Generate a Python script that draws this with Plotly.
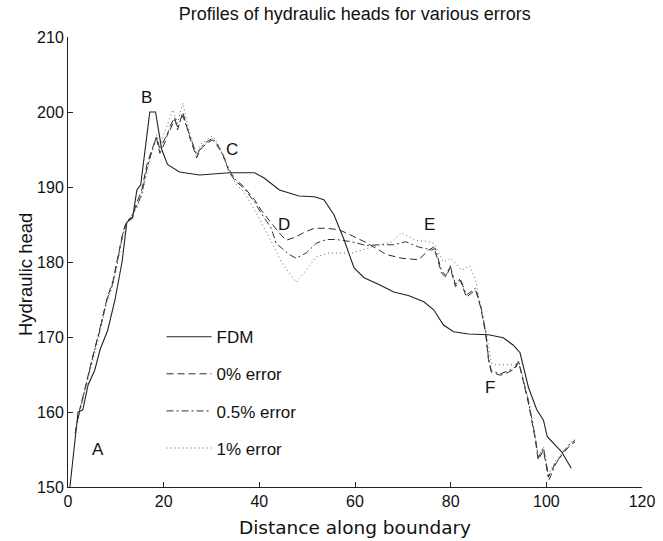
import plotly.graph_objects as go

# ---- data ----
fdm_x = [0.4, 2.1, 3.1, 4.2, 5.6, 6.7, 8.3, 9.8, 11.3, 12.3, 13.5, 14.4, 15.2, 17.1, 18.3,
         19.6, 20.8, 23.3, 27.5, 33.75, 39, 41, 44.2, 48.3, 51.5, 53.5, 55.6, 57.7, 59.8,
         61.9, 65, 68.1, 71.3, 74.4, 76.5, 78.5, 80.6, 83.75, 87.9, 91, 93.1, 94.5, 96.25,
         98, 99.4, 100.2, 103.2, 105.2]
fdm_y = [150, 160, 160.3, 163.6, 165.6, 168.3, 170.9, 174.9, 180, 185.3, 185.9, 189.6, 190.3,
         200, 200, 195, 193, 192, 191.6, 191.9, 191.9, 191.2, 189.6, 188.8, 188.7, 188.3, 186.3,
         183, 179.2, 177.9, 177, 176, 175.5, 174.7, 173.6, 171.6, 170.7, 170.4, 170.3, 169.9,
         168.9, 167.9, 163.3, 160.3, 158.9, 156.7, 154.7, 152.5]

e0_x = [1.5, 2.5, 3.5, 5.2, 6.7, 8.1, 9.4, 10.4, 11.5, 12.3, 13.5, 14.4, 15.4, 16.5, 17.7,
        18.5, 19.2, 20.3, 21.25, 22.3, 22.9, 24, 25.5, 26.9, 27.9, 29, 30.2, 31.2, 32.3, 33.75,
        35, 36.5, 37.3, 39, 40.4, 42.5, 44, 45.6, 47.5, 49.5, 51.5, 53.9, 56.7, 59.4, 62.3,
        64.5, 66.5, 69.8, 73.3, 75.4, 76.5, 78.1, 79, 79.9, 81, 82, 83.3, 85.2, 86.25, 87.3,
        87.9, 88.5, 90.4, 92.1, 93.5, 94.2, 96.25, 97.7, 98.3, 99.4, 100.4, 101.9, 103.5,
        105, 106]
e0_y = [157.2, 160.5, 163, 167.5, 171, 175, 177.5, 180.5, 184, 185.5, 186, 188, 189.5, 193,
        195.3, 196.5, 194.5, 196, 198, 199.3, 197.6, 200, 196.5, 193.9, 195.2, 195.8, 196.3,
        195.5, 194.5, 191.9, 190.8, 190, 189.6, 188.3, 186.9, 185.2, 184, 182.9, 183.3, 184,
        184.5, 184.5, 184.3, 183.5, 182.6, 181.8, 181, 180.5, 180.3, 181.6, 182, 178.5, 178,
        179.3, 176.7, 177.6, 175.3, 176.3, 174, 170.5, 167, 165.3, 164.9, 165.3, 165.8, 166.7,
        161.2, 156.3, 153.6, 154.9, 151.3, 153.2, 154.5, 155.6, 156]

e05_x = [1.5, 2.5, 3.5, 5.2, 6.7, 8.1, 9.4, 10.4, 11.5, 12.3, 13.5, 14.4, 15.4, 16.5, 17.7,
         18.5, 19.2, 20.3, 21.25, 22.3, 22.9, 24, 25.5, 26.9, 27.9, 29, 30.2, 31.2, 32.3, 33.75,
         35, 36.5, 37.3, 39, 40.4, 42.5, 43.5, 46.25, 47.7, 49.8, 51.9, 54, 56, 59.4, 62.3,
         65, 68.1, 70.6, 73.3, 76, 76.8, 78.1, 79, 79.9, 81, 82, 83.3, 85.2, 86.25, 87.3,
         87.9, 88.5, 90.4, 92.1, 93.5, 94.2, 96.25, 97.7, 98.3, 99.4, 100.6, 101.9, 103.5,
         105, 106]
e05_y = [157.2, 160.3, 162.9, 167.3, 170.9, 174.9, 177.2, 180.3, 183.8, 185.3, 186.3, 187.5,
         189, 192.5, 195, 196.8, 195, 196.5, 197.5, 199, 198, 199.5, 196.8, 194.2, 195.4, 196,
         196.5, 195.7, 194.3, 192.2, 191, 190.2, 189.4, 188, 186.5, 184.5, 182.5, 181, 180.5,
         181.2, 182.5, 183, 183, 182.7, 182.2, 182.3, 182.3, 182.7, 182, 181.6, 181.8, 178.8,
         178.2, 179.5, 177, 177.8, 175.6, 176.5, 174.3, 170.8, 167.2, 165.5, 165.1, 165.5,
         166, 166.8, 161.5, 156.6, 153.9, 155.2, 151, 153, 154.7, 155.8, 156.2]

e1_x = [1.5, 2.5, 3.5, 5.2, 6.7, 8.1, 9.4, 10.4, 11.5, 12.3, 13.5, 14.4, 15.4, 16.5, 17.7,
        18.5, 19.2, 20.3, 21.9, 22.9, 24, 25.5, 26.9, 27.9, 29, 30.2, 31.2, 32.3, 33.75, 35,
        36.5, 37.3, 39.4, 41, 42.7, 44.8, 47.7, 49.8, 51.9, 54.6, 59.4, 63.5, 67.7, 69.6, 72.7,
        75.4, 76.5, 78.5, 80, 82.3, 84, 85.4, 85.8, 87.5, 88.5, 89.4, 93.5, 94.2, 96.25, 97.7,
        98.3, 99.4, 100.4, 101.9, 103.5, 105, 106]
e1_y = [157, 160.2, 162.7, 167, 170.6, 174.6, 177, 180, 183.5, 185.2, 186.5, 187.2, 188.8, 192,
        195, 197, 195.5, 197.5, 200.3, 198.5, 201.2, 197, 194.5, 195.8, 196.3, 196.8, 196,
        194.3, 192.3, 190.5, 189.5, 188.8, 186.5, 184.5, 182.5, 179.8, 177.3, 178.9, 180.7,
        181.2, 181.2, 182, 182.7, 183.9, 182.9, 182.7, 182.5, 180, 180.5, 178.9, 179.5, 177.2,
        175.3, 170.5, 166.5, 166.3, 166.3, 166.8, 161.8, 156.8, 154, 155.4, 151.6, 153.5,
        154.8, 155.9, 156.3]

series_names = ["FDM", "0% error", "0.5% error", "1% error"]
label_text = ["A", "B", "C", "D", "E", "F"]
label_x = [6.25, 16.5, 34.2, 45.2, 75.6, 88.3]
label_y = [155, 202, 195, 185, 185, 163.3]

FONT = "Liberation Sans, Arial, Helvetica, sans-serif"
FONT2 = "DejaVu Sans, Liberation Sans, sans-serif"
INK = "#222222"
TXT = "#111111"

fig = go.Figure()
styles = [("solid", 1.1), ("7px,4px", 1.0), ("7px,3px,2px,3px", 1.0), ("1px,3px", 1.0)]
colors = ["#222222", "#2a2a2a", "#333333", "#666666"]
data = [(fdm_x, fdm_y), (e0_x, e0_y), (e05_x, e05_y), (e1_x, e1_y)]
for i, ((xs, ys), name) in enumerate(zip(data, series_names)):
    fig.add_trace(go.Scatter(
        x=xs, y=ys, mode="lines", name=name, legendgroup=name,
        line=dict(color=colors[i], width=styles[i][1], dash=styles[i][0]),
    ))

for t, x, y in zip(label_text, label_x, label_y):
    fig.add_annotation(x=x, y=y, text=t, showarrow=False,
                       font=dict(family=FONT, size=17, color=TXT))

# y-axis title as a rotated annotation (reference places it slightly below centre)
fig.add_annotation(x=0, y=0.471, xref="paper", yref="paper", xanchor="center", yanchor="middle",
                   xshift=-43, text="Hydraulic head", textangle=-90, showarrow=False,
                   font=dict(family=FONT, size=18.5, color=TXT))

axis_common = dict(
    showgrid=False, zeroline=False, showline=True, linecolor=INK, linewidth=1,
    ticks="inside", ticklen=5, tickcolor=INK, tickfont=dict(family=FONT, size=16, color=TXT),
    mirror=False, automargin=False,
)
fig.update_xaxes(range=[0, 120], tick0=0, dtick=20, **axis_common,
                 title=dict(text="Distance along boundary",
                            font=dict(family=FONT2, size=18.5, color=TXT), standoff=11))
fig.update_yaxes(range=[150, 210], tick0=150, dtick=10, **axis_common)

fig.update_layout(
    width=663, height=541,
    margin=dict(l=68, r=21, t=37, b=54),
    paper_bgcolor="white", plot_bgcolor="white",
    title=dict(text="Profiles of hydraulic heads for various errors", x=0.535, xanchor="center",
               y=0.986, yanchor="top", font=dict(family=FONT, size=18, color=TXT)),
    showlegend=True,
    legend=dict(x=0.163, y=0.373, xanchor="left", yanchor="top", bgcolor="rgba(0,0,0,0)",
                traceorder="grouped", tracegroupgap=12,
                font=dict(family=FONT, size=17, color=TXT), itemwidth=45),
)

fig.write_html("out.html")
